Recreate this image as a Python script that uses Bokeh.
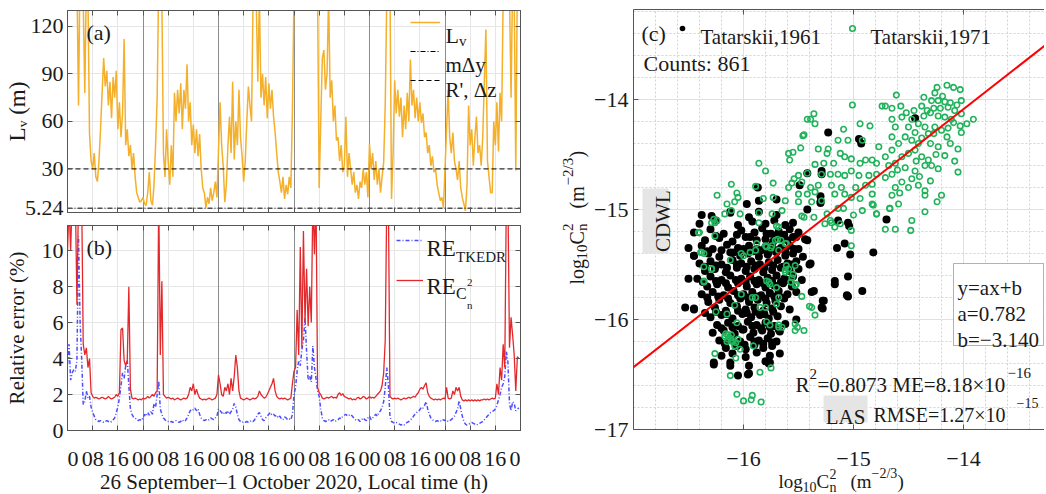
import math
from bokeh.plotting import figure
from bokeh.models import (Range1d, FixedTicker, LinearAxis, Grid, Label,
                          BoxAnnotation, Legend, LegendItem)
from bokeh.layouts import row, column
from bokeh.embed import file_html
from bokeh.resources import INLINE

FONT = "Liberation Serif"
INK = "#1a1a1a"
AX = "#555555"
ORANGE = "#F4B02A"
BLUE = "#4d4dff"
RED = "#E3282C"
GREEN = "#20B35B"
FITRED = "#FF0000"

# ---------------- data: time series (30-min steps from 26 Sep 00:00) ----------------
step_h = 0.5
lv_day1 = [150,145,160,140,150,135,150,70,160,140,135,78,150,140,52,35,30,40,25,22,35,55,78,100,
           82,92,70,85,62,88,75,92,55,72,50,65,112,45,55,38,45,30,40,25,15,12,9,10]
lv_day2 = [12,8,7,15,28,10,7,20,45,75,150,140,135,40,25,55,35,20,45,25,78,60,80,65,
           84,55,80,68,96,60,72,45,58,40,55,38,52,30,18,15,5.5,12,8,18,10,15,22,12]
lv_day3 = [42,72,45,32,9,20,45,63,40,85,36,60,45,80,50,38,22,35,60,82,70,60,140,150,
           135,85,140,75,90,70,88,62,84,68,80,63,53,40,28,22,15,25,11,20,14,25,18,67]
lv_day4 = [140,150,140,160,150,145,160,140,155,145,150,160,140,150,145,140,18,60,100,105,80,90,140,75,
           86,60,70,48,50,35,45,28,32,63,25,40,30,20,28,15,20,11,22,18,30,20,28,12]
lv_day5 = [46,30,40,23,35,20,30,15,25,34,70,140,160,150,11,40,86,65,80,63,75,50,70,55,
           78,60,99,70,80,62,75,60,72,59,65,50,53,40,45,32,38,28,30,20,15,10,12,5.5]
lv_day6 = [30,55,80,50,40,53,35,30,23,35,18,12,8,3.6,20,70,45,55,32,50,63,40,45,32,
           50,85,118,35,25,15,15,60,45,72,41,78,60,140,150,135,145,140,75,150,140,29,150,140]
lv_m = lv_day1 + lv_day2 + lv_day3 + lv_day4 + lv_day5 + lv_day6

tk_day1 = [3.7,4.8,2.8,3.2,3.4,3.3,3.9,10.8,6.1,4.0,1.45,1.6,2.2,1.8,1.9,1.3,1.0,0.8,0.6,0.55,0.5,0.55,0.5,0.45,
           0.5,0.55,0.5,0.45,0.5,0.6,0.7,1.0,1.3,1.8,2.5,3.2,2.9,3.6,3.9,2.5,1.2,0.9,0.75,0.7,0.6,0.55,0.6,0.55]
tk_day2 = [0.7,0.9,0.8,1.0,0.85,1.1,0.9,1.5,1.3,2.0,2.75,1.2,0.9,0.7,0.6,0.5,0.5,0.45,0.5,0.45,0.5,0.55,0.5,0.45,
           0.5,0.6,0.5,0.55,0.7,0.9,1.1,1.2,1.15,1.25,1.1,1.2,0.9,0.7,0.6,0.55,0.6,0.55,0.6,0.7,0.65,0.6,0.7,0.8]
tk_day3 = [1.2,1.1,1.0,0.9,1.05,0.95,1.1,0.9,1.05,1.2,1.5,1.3,0.9,0.6,0.5,0.45,0.5,0.45,0.5,0.45,0.5,0.55,0.5,0.6,
           0.75,0.9,1.0,0.8,0.6,0.55,0.7,0.8,0.9,1.0,0.85,0.9,0.8,0.85,0.7,0.8,0.65,0.6,0.75,0.7,0.6,0.65,0.6,0.9]
tk_day4 = [2.0,2.4,3.3,3.9,3.6,4.5,5.0,6.3,4.4,2.8,3.0,2.7,4.7,3.5,2.9,2.2,1.9,1.2,0.7,0.55,0.5,0.55,0.6,0.5,
           0.55,0.6,0.5,0.55,0.6,0.7,0.65,0.8,0.85,0.9,0.8,0.85,0.9,0.8,0.7,0.6,0.55,0.6,0.5,0.6,0.7,0.6,0.55,0.7]
tk_day5 = [0.8,0.6,0.7,0.8,0.9,0.8,1.0,1.1,1.3,1.6,2.4,3.5,2.5,0.8,0.5,0.45,0.4,0.45,0.4,0.35,0.3,0.35,0.3,0.4,
           0.45,0.5,0.6,0.65,0.8,0.9,1.0,1.05,1.15,1.3,1.25,1.4,1.6,1.2,0.9,0.7,0.6,0.55,0.5,0.55,0.5,0.55,0.5,0.6]
tk_day6 = [0.55,0.6,0.5,0.55,0.6,0.7,0.8,1.0,1.2,1.65,1.2,0.8,0.5,0.35,0.3,0.35,0.4,0.45,0.4,0.35,0.3,0.35,0.4,0.45,
           0.5,0.6,0.7,0.8,0.9,1.0,1.05,1.1,1.2,1.4,1.7,2.0,2.4,2.6,3.0,4.4,3.8,1.5,1.1,1.6,1.5,1.1,1.2,1.25]
re_tkedr = tk_day1 + tk_day2 + tk_day3 + tk_day4 + tk_day5 + tk_day6

cn_day1 = [10.0,12.5,10.0,13.0,12.5,13.0,7.0,13.0,12.0,13.0,4.8,4.2,4.6,3.5,4.0,2.1,1.9,1.8,1.85,1.8,1.75,1.8,1.85,1.8,
           1.75,1.8,1.9,1.8,1.75,1.8,1.85,2.0,1.9,2.1,5.6,5.7,3.9,3.6,3.9,8.0,2.3,1.8,1.75,1.8,1.75,1.7,1.75,1.7]
cn_day2 = [1.8,1.75,1.8,1.9,1.8,1.9,2.0,1.9,2.1,2.2,13.0,4.2,8.3,2.0,1.9,1.8,1.85,1.8,1.75,1.8,1.7,1.75,1.8,1.75,
           1.7,1.75,1.8,1.75,1.8,2.0,2.4,2.2,2.6,2.0,2.3,2.0,1.8,1.75,1.7,1.75,1.7,1.75,1.8,1.75,1.7,1.75,1.8,2.0]
cn_day3 = [3.1,2.6,2.0,1.9,2.4,2.2,2.6,2.0,2.9,2.2,3.0,4.2,3.5,2.2,1.8,1.75,1.7,1.75,1.8,1.75,1.7,1.75,1.8,1.75,
           1.8,1.9,2.2,2.0,1.9,1.8,1.85,2.0,2.2,2.4,2.6,2.9,2.2,1.9,1.8,1.75,1.8,1.75,1.8,1.75,1.7,1.75,1.8,2.6]
cn_day4 = [3.3,3.5,6.7,4.2,10.2,4.6,11.1,6.0,9.0,5.8,8.0,6.0,13.0,9.8,13.0,2.4,2.1,2.0,1.8,1.75,1.8,1.85,1.8,1.85,
           1.9,1.8,1.85,1.8,2.0,2.1,1.95,2.05,1.9,1.85,1.8,1.75,1.8,1.7,1.75,1.7,1.8,1.85,1.75,1.8,1.9,1.85,1.75,1.8]
cn_day5 = [1.9,1.8,1.85,1.8,1.9,2.0,2.1,2.2,2.5,3.2,5.0,13.0,13.0,1.9,1.8,1.75,1.8,1.75,1.8,1.75,1.7,1.75,1.8,1.75,
           1.8,1.85,1.8,1.85,1.9,1.85,2.0,2.1,2.3,2.4,2.3,2.5,2.65,2.1,1.9,1.8,1.75,1.7,1.75,1.7,1.75,1.7,1.75,1.8]
cn_day6 = [1.75,2.4,1.8,1.75,1.8,2.2,2.0,2.4,2.2,2.4,1.9,1.7,1.65,1.7,1.65,1.7,1.65,1.7,1.65,1.7,1.65,1.7,1.65,1.7,
           1.7,1.75,1.7,1.75,1.7,1.75,1.8,1.75,1.8,2.6,2.0,3.5,2.8,4.8,3.5,13.0,13.0,4.6,6.3,5.3,4.2,2.2,4.1,4.0]
re_cn2 = cn_day1 + cn_day2 + cn_day3 + cn_day4 + cn_day5 + cn_day6

m_dy = 5.24      # m*delta-y threshold (m)
r_dz = 30.0      # R', delta-z threshold (m)

hour_ticks = [0, 8, 16, 24, 32, 40, 48, 56, 64, 72, 80, 88, 96, 104, 112, 120, 128, 136, 144]
hour_labels = ["00", "08", "16", "00", "08", "16", "00", "08", "16", "00", "08", "16",
               "00", "08", "16", "00", "08", "16", "00"]
day_bounds = [24, 48, 72, 96, 120]
lv_ticks = [5.24, 30, 60, 90, 120]
lv_tick_labels = ["5.24", "30", "60", "90", "120"]
re_ticks = [0, 2, 4, 6, 8, 10]

# ---------------- data: scatter (log10 Cn2) ----------------
fit_a = 0.782
fit_b = -3.140
count_n = 861
c_ticks = [-17, -16, -15, -14]
c_tick_labels = ["\u221217", "\u221216", "\u221215", "\u221214"]

black_mass = [
    (-16.29,-15.06),(-16.12,-15.03),(-15.95,-15.07),(-15.86,-15.02),(-15.70,-15.05),
    (-16.40,-15.13),(-16.25,-15.10),(-16.05,-15.14),(-15.92,-15.11),(-15.80,-15.13),(-15.72,-15.10),(-15.62,-15.14),(-15.55,-15.12),
    (-16.45,-15.21),(-16.30,-15.18),(-16.18,-15.22),(-16.02,-15.19),(-15.90,-15.21),(-15.83,-15.17),(-15.75,-15.22),(-15.68,-15.20),(-15.58,-15.18),(-15.50,-15.21),
    (-16.25,-15.24),(-16.06,-15.23),(-15.94,-15.25),(-15.79,-15.22),(-15.71,-15.24),(-15.63,-15.23),(-15.55,-15.25),
    (-16.35,-15.28),(-16.22,-15.26),(-16.10,-15.29),(-15.98,-15.25),(-15.88,-15.28),(-15.80,-15.27),(-15.73,-15.29),(-15.65,-15.26),(-15.60,-15.28),(-15.52,-15.25),(-15.44,-15.27),
    (-16.50,-15.35),(-16.38,-15.33),(-16.28,-15.36),(-16.15,-15.32),(-16.05,-15.35),(-15.95,-15.33),(-15.88,-15.36),(-15.80,-15.34),(-15.74,-15.32),(-15.66,-15.35),(-15.58,-15.33),(-15.50,-15.36),
    (-16.33,-15.38),(-16.20,-15.37),(-16.09,-15.39),(-16.00,-15.36),(-15.91,-15.38),(-15.84,-15.37),(-15.77,-15.39),(-15.70,-15.37),(-15.62,-15.38),(-15.54,-15.36),
    (-16.45,-15.42),(-16.32,-15.40),(-16.22,-15.43),(-16.12,-15.39),(-16.03,-15.42),(-15.96,-15.40),(-15.86,-15.43),(-15.78,-15.41),(-15.70,-15.39),(-15.62,-15.42),(-15.55,-15.40),(-15.46,-15.43),
    (-16.40,-15.49),(-16.30,-15.47),(-16.20,-15.50),(-16.10,-15.46),(-16.02,-15.49),(-15.93,-15.47),(-15.85,-15.50),(-15.77,-15.48),(-15.69,-15.46),(-15.60,-15.49),(-15.52,-15.47),(-15.40,-15.50),
    (-16.35,-15.52),(-16.25,-15.51),(-16.15,-15.53),(-16.06,-15.50),(-15.97,-15.52),(-15.89,-15.51),(-15.81,-15.53),(-15.73,-15.51),(-15.64,-15.52),(-15.56,-15.50),
    (-16.35,-15.56),(-16.26,-15.54),(-16.16,-15.57),(-16.06,-15.53),(-15.98,-15.56),(-15.90,-15.54),(-15.82,-15.57),(-15.74,-15.55),(-15.66,-15.53),(-15.58,-15.56),(-15.50,-15.54),
    (-16.42,-15.63),(-16.30,-15.61),(-16.20,-15.64),(-16.12,-15.60),(-16.02,-15.63),(-15.94,-15.61),(-15.86,-15.64),(-15.78,-15.62),(-15.70,-15.60),(-15.63,-15.63),(-15.55,-15.61),(-15.47,-15.64),
    (-16.37,-15.66),(-16.25,-15.65),(-16.16,-15.67),(-16.07,-15.64),(-15.98,-15.66),(-15.90,-15.65),(-15.82,-15.67),(-15.74,-15.65),(-15.66,-15.66),(-15.59,-15.64),
    (-16.33,-15.70),(-16.24,-15.68),(-16.14,-15.71),(-16.05,-15.67),(-15.97,-15.70),(-15.88,-15.68),(-15.80,-15.71),(-15.72,-15.69),(-15.64,-15.67),(-15.56,-15.70),
    (-16.38,-15.77),(-16.28,-15.75),(-16.18,-15.78),(-16.09,-15.74),(-16.00,-15.77),(-15.92,-15.75),(-15.84,-15.78),(-15.76,-15.76),(-15.68,-15.74),(-15.60,-15.77),(-15.52,-15.75),
    (-16.33,-15.80),(-16.23,-15.79),(-16.14,-15.81),(-16.05,-15.78),(-15.96,-15.80),(-15.88,-15.79),(-15.80,-15.81),(-15.72,-15.79),(-15.64,-15.80),
    (-16.32,-15.84),(-16.22,-15.82),(-16.12,-15.85),(-16.03,-15.81),(-15.95,-15.84),(-15.87,-15.82),(-15.79,-15.85),(-15.71,-15.83),(-15.63,-15.81),
    (-16.45,-15.91),(-16.26,-15.89),(-16.16,-15.92),(-16.06,-15.88),(-15.98,-15.91),(-15.90,-15.89),(-15.82,-15.92),(-15.74,-15.90),(-15.66,-15.88),(-15.58,-15.91),
    (-16.35,-15.94),(-16.25,-15.93),(-16.15,-15.95),(-16.05,-15.92),(-15.97,-15.94),(-15.89,-15.93),(-15.81,-15.95),(-15.73,-15.93),
    (-16.30,-15.98),(-16.20,-15.96),(-16.10,-15.99),(-16.01,-15.95),(-15.93,-15.98),(-15.85,-15.96),(-15.77,-15.99),(-15.69,-15.97),
    (-16.24,-16.05),(-16.14,-16.03),(-16.05,-16.06),(-15.96,-16.02),(-15.88,-16.05),(-15.80,-16.03),(-15.72,-16.06),(-15.62,-16.04),
    (-16.20,-16.08),(-16.10,-16.07),(-16.01,-16.09),(-15.92,-16.06),(-15.84,-16.08),(-15.76,-16.07),(-15.68,-16.09),
    (-16.28,-16.12),(-16.18,-16.10),(-16.08,-16.13),(-16.00,-16.09),(-15.91,-16.12),(-15.83,-16.10),(-15.75,-16.13),(-15.67,-16.11),
    (-16.22,-16.19),(-16.12,-16.17),(-16.03,-16.20),(-15.94,-16.16),(-15.86,-16.19),(-15.78,-16.17),(-15.70,-16.20),
    (-16.17,-16.22),(-16.08,-16.21),(-15.99,-16.23),(-15.90,-16.20),(-15.82,-16.22),(-15.74,-16.21),
    (-16.16,-16.26),(-16.06,-16.24),(-15.98,-16.27),(-15.90,-16.23),(-15.82,-16.26),(-15.74,-16.24),
    (-16.20,-16.33),(-16.10,-16.31),(-15.98,-16.34),(-15.88,-16.30),(-15.76,-16.33),
    (-16.27,-16.41),(-16.12,-16.39),(-15.95,-16.42),(-15.80,-16.38),
    (-16.05,-16.51),(-15.95,-16.49),
]
black_sparse = [
    (-15.23,-14.30),(-14.93,-14.40),(-14.95,-14.36),(-15.42,-14.67),(-15.29,-14.65),(-15.49,-14.78),
    (-15.87,-14.80),(-14.44,-14.17),(-15.70,-14.91),(-15.86,-14.92),(-15.97,-14.95),(-15.30,-14.88),
    (-15.30,-14.94),(-15.42,-15.00),(-14.70,-15.09),(-15.05,-15.12),(-16.38,-15.05),(-16.12,-15.02),
    (-15.42,-15.28),(-15.15,-15.35),(-15.05,-15.61),(-15.17,-15.68),(-14.92,-15.74),(-15.06,-15.78),
    (-15.27,-15.83),(-15.29,-15.89),(-15.39,-15.49),(-15.14,-15.10),(-15.04,-15.15),(-14.82,-15.39),
    (-15.36,-15.74),(-15.76,-16.39),(-15.67,-16.31),(-16.12,-16.42),(-15.08,-15.31),(-16.45,-15.42),
    (-16.50,-15.63),(-16.53,-15.89),(-15.30,-14.93),(-15.29,-14.68),(-15.03,-15.41),(-15.05,-15.79),
    (-15.17,-15.65),(-15.28,-15.83),(-15.28,-15.90),(-15.38,-15.75),(-15.52,-16.00),(-15.77,-16.40),
    (-15.96,-16.50),(-16.27,-16.39),(-16.45,-15.90),
]
green_upper = [
    (-14.24,-13.89),(-14.15,-13.87),(-14.09,-13.89),(-14.03,-13.91),(-14.26,-13.94),(-14.36,-13.98),
    (-14.61,-13.96),(-14.29,-14.01),(-14.23,-14.01),(-14.17,-14.02),(-14.02,-14.01),(-13.91,-14.18),
    (-14.74,-14.06),(-14.71,-14.06),(-14.65,-14.08),(-14.57,-14.06),(-14.52,-14.12),(-14.45,-14.10),
    (-14.38,-14.06),(-14.33,-14.10),(-14.27,-14.08),(-14.21,-14.08),(-14.14,-14.07),(-14.08,-14.10),
    (-14.02,-14.13),(-14.23,-14.15),(-14.17,-14.16),(-14.11,-14.18),(-14.03,-14.24),(-14.02,-14.30),
    (-14.56,-14.16),(-14.47,-14.18),(-14.41,-14.22),(-14.65,-14.18),(-14.62,-14.25),(-14.50,-14.25),
    (-14.35,-14.25),(-14.26,-14.25),(-14.20,-14.28),(-14.15,-14.34),(-14.32,-14.31),(-14.53,-14.34),
    (-14.65,-14.34),(-14.59,-14.40),(-14.47,-14.37),(-14.41,-14.40),(-14.30,-14.40),(-14.23,-14.43),
    (-14.17,-14.51),(-14.08,-14.56),(-14.05,-14.66),(-14.50,-14.49),(-14.44,-14.46),(-14.38,-14.52),
    (-14.65,-14.46),(-14.56,-14.52),(-14.71,-14.52),(-14.77,-14.43),(-14.79,-14.58),(-14.62,-14.58),
    (-14.53,-14.62),(-14.44,-14.65),(-14.35,-14.60),(-14.29,-14.60),(-14.23,-14.63),(-14.47,-14.72),
    (-14.56,-14.75),(-14.65,-14.68),(-14.71,-14.71),(-14.50,-14.80),(-14.41,-14.78),(-14.35,-14.83),
    (-14.35,-14.87),(-14.20,-14.87),(-14.24,-14.93),(-14.58,-14.85),(-14.65,-14.87),(-14.59,-14.95),
    (-14.67,-14.99),(-14.79,-15.04),(-14.47,-15.10),(-14.48,-15.19),(-14.71,-15.18),(-14.35,-15.02),
    (-14.19,-13.97),(-14.12,-14.03),(-14.06,-14.05),(-14.30,-14.12),(-14.36,-14.15),(-14.09,-14.21),
    (-14.14,-14.26),(-14.27,-14.31),(-14.44,-14.30),(-14.38,-14.35),(-14.12,-14.40),(-14.05,-14.45),
    (-14.25,-14.50),(-14.32,-14.55),(-14.43,-14.56),(-14.60,-14.64),(-14.68,-14.60),(-14.40,-14.70),
    (-14.30,-14.74),(-14.62,-14.80),(-13.97,-14.22),
]
green_mid = [
    (-15.01,-14.05),(-15.39,-14.18),(-15.42,-14.18),(-15.36,-14.13),(-15.35,-14.22),(-14.94,-14.22),
    (-14.85,-14.24),(-15.09,-14.27),(-15.46,-14.33),(-15.45,-14.32),(-15.14,-14.37),(-15.05,-14.37),
    (-14.92,-14.37),(-15.32,-14.45),(-15.23,-14.45),(-15.55,-14.48),(-15.59,-14.49),(-15.58,-14.55),
    (-15.48,-14.44),(-15.24,-14.49),(-15.12,-14.49),(-15.08,-14.52),(-15.02,-14.54),(-14.94,-14.58),
    (-14.89,-14.55),(-14.83,-14.55),(-14.79,-14.68),(-15.18,-14.58),(-15.27,-14.58),(-15.35,-14.59),
    (-15.86,-14.58),(-15.80,-14.65),(-15.42,-14.67),(-15.50,-14.69),(-15.54,-14.72),(-15.29,-14.68),
    (-15.21,-14.68),(-15.14,-14.68),(-15.08,-14.69),(-15.02,-14.65),(-14.95,-14.69),(-14.86,-14.69),
    (-15.56,-14.76),(-15.47,-14.75),(-15.39,-14.80),(-15.32,-14.78),(-15.20,-14.78),(-15.11,-14.80),
    (-14.98,-14.80),(-14.89,-14.78),(-14.83,-14.77),(-16.11,-14.77),(-15.89,-14.79),(-15.73,-14.76),
    (-15.59,-14.80),(-15.50,-14.86),(-15.42,-14.86),(-15.35,-14.84),(-15.17,-14.86),(-15.08,-14.86),
    (-15.02,-14.89),(-14.94,-14.90),(-14.83,-14.86),(-16.24,-14.87),(-16.06,-14.85),(-16.05,-14.89),
    (-16.15,-14.95),(-16.08,-14.93),(-15.82,-14.90),(-15.73,-14.89),(-15.62,-14.92),(-15.50,-14.93),
    (-15.38,-14.93),(-15.29,-14.92),(-15.24,-15.04),(-15.14,-14.99),(-15.09,-14.99),(-15.00,-15.05),
    (-14.92,-15.01),(-14.83,-14.95),(-16.17,-15.04),(-16.11,-15.01),(-16.03,-15.04),(-15.86,-15.03),
    (-15.74,-15.04),(-15.65,-15.01),(-15.45,-15.07),(-15.36,-15.07),(-15.26,-15.13),(-15.20,-15.12),
    (-15.12,-15.13),(-15.02,-15.19),(-15.86,-15.12),(-15.71,-15.28),(-15.68,-15.16),(-16.26,-15.12),
    (-16.29,-15.12),(-16.41,-15.21),(-16.26,-15.24),(-14.82,-14.96),(-14.67,-14.99),(-14.62,-15.18),
    (-14.79,-15.04),(-15.21,-15.10),(-15.17,-15.16),(-15.47,-15.06),
]
green_low = [
    (-16.38,-15.39),(-16.36,-15.52),(-16.29,-15.54),(-16.36,-15.65),(-16.25,-15.93),(-16.15,-15.95),
    (-16.08,-15.87),(-16.02,-15.77),(-16.00,-15.42),(-15.92,-15.80),(-15.85,-15.89),(-15.80,-15.89),
    (-15.79,-16.02),(-15.76,-16.05),(-15.68,-16.07),(-15.65,-16.07),(-15.77,-15.66),(-15.70,-15.71),
    (-15.68,-15.80),(-15.62,-15.55),(-15.61,-15.51),(-15.53,-15.51),(-15.55,-15.59),(-15.52,-15.68),
    (-15.47,-15.79),(-15.40,-15.88),(-15.38,-15.89),(-15.35,-15.96),(-15.53,-16.04),(-15.51,-16.07),
    (-15.45,-16.10),(-16.17,-16.15),(-16.14,-16.18),(-16.11,-16.19),(-16.08,-16.24),(-16.03,-16.27),
    (-16.05,-16.18),(-16.16,-16.13),(-15.91,-16.24),(-16.07,-16.35),(-16.26,-16.31),(-16.12,-16.51),
    (-15.85,-16.48),(-15.75,-16.44),(-16.06,-16.68),(-16.00,-16.74),(-15.93,-16.73),(-15.92,-16.69),
    (-15.84,-16.75),(-15.02,-15.33),(-15.88,-15.31),(-15.80,-15.33),(-15.74,-15.33),(-15.62,-15.31),
    (-15.70,-15.15),(-15.69,-15.27),(-15.66,-15.28),(-15.79,-15.34),(-15.75,-15.35),(-15.68,-15.37),
    (-15.61,-15.31),(-16.02,-15.40),(-16.12,-15.46),(-15.94,-15.39),(-15.89,-15.37),(-15.59,-15.54),
    (-15.62,-15.57),(-15.56,-15.62),(-15.57,-15.66),(-15.53,-15.69),(-15.79,-15.65),(-15.76,-15.68),
    (-15.70,-15.86),(-15.89,-15.80),(-16.06,-16.03),(-16.14,-16.14),(-16.11,-16.14),(-15.68,-16.05),
    (-15.53,-16.10),(-16.39,-15.39),(-16.40,-15.21),(-16.27,-15.09),(-16.24,-15.10),(-16.10,-16.20),
    (-16.07,-16.21),(-16.15,-16.20),(-16.12,-16.17),(-16.36,-15.40),(-16.29,-15.54),(-16.36,-15.66),
]

black_pts = black_mass + black_sparse
green_pts = green_upper + green_mid + green_low
bx = [p[0] for p in black_pts]
by = [p[1] for p in black_pts]
gx = [p[0] for p in green_pts]
gy = [p[1] for p in green_pts]

# ---------------- geometry (page pixels) ----------------
PAGE_H = 493
A_L, A_R, A_T, A_B = 67, 520, 10, 212
A_BOT = 10
B_T, B_B = 225, 430
B_BOT = 9
PBX_TOP = B_B + B_BOT
PBX_H = PAGE_H - PBX_TOP
A_YR = (2.5, 130.0)
B_YR = (0.0, 11.4)
LEFT_W = 521           # width of the time-series column
STRIP_W = 70           # strip holding the rotated y label of (c)
C_X0 = LEFT_W + STRIP_W
C_L, C_T, C_W, C_H = 633, 9, 411, 420
C_B = C_T + C_H
C_BOT = 9
CX_TOP = C_B + C_BOT
CX_H = PAGE_H - CX_TOP
C_PX = 110.0
C_XR = (-17.0, -17.0 + C_W / C_PX)
C_YR = (-17.0, -17.0 + C_H / C_PX)
TICK_BASE = 458        # baseline of bottom tick labels (page px)


def conv_a(px, py):
    return ((px - A_L) * 144.0 / (A_R - A_L), A_YR[1] - (py - A_T) * (A_YR[1] - A_YR[0]) / (A_B - A_T))


def conv_b(px, py):
    return ((px - A_L) * 144.0 / (A_R - A_L), B_YR[1] - (py - B_T) * (B_YR[1] - B_YR[0]) / (B_B - B_T))


def conv_c(px, py):
    return (-17.0 + (px - C_L) / C_PX, -17.0 + (C_B - py) / C_PX)


def conv_bx(px, py):
    return ((px - A_L) * 144.0 / (A_R - A_L), PAGE_H - py)


def conv_cx(px, py):
    return (-17.0 + (px - C_L) / C_PX, PAGE_H - py)


def conv_strip(px, py):
    return (px - LEFT_W, PAGE_H - py)


def lab(p, conv, px, py, text, size, angle=0.0, align="left", baseline="alphabetic", color=INK):
    x, y = conv(px, py)
    p.add_layout(Label(x=x, y=y, text=text, text_font=FONT, text_font_size=f"{size}px",
                       angle=angle, text_align=align, text_baseline=baseline, text_color=color))


def tick_lab(p, xval, py, text):
    p.add_layout(Label(x=xval, y=PAGE_H - py, text=text, text_font=FONT, text_font_size="22px",
                       text_align="center", text_baseline="alphabetic", text_color=INK))


def style_axis(ax, ticker, overrides=None, labels=True, size="22px", standoff=4):
    ax.ticker = ticker
    ax.axis_line_color = AX
    ax.axis_line_width = 1
    ax.major_tick_line_color = AX
    ax.major_tick_in = 5
    ax.major_tick_out = 0
    ax.minor_tick_line_color = None
    if labels:
        ax.major_label_text_font = FONT
        ax.major_label_text_font_size = size
        ax.major_label_text_color = INK
        ax.major_label_standoff = standoff
        if overrides:
            ax.major_label_overrides = overrides
    else:
        ax.major_label_text_font_size = "0px"
        ax.major_label_standoff = 0


def style_axis_label(ax, text, size, standoff):
    ax.axis_label = text
    ax.axis_label_text_font = FONT
    ax.axis_label_text_font_size = f"{size}px"
    ax.axis_label_text_font_style = "normal"
    ax.axis_label_text_color = INK
    ax.axis_label_standoff = standoff


def ts_figure(frame_t, frame_b, yr, top, bottom, yticks, yover, xr):
    p = figure(frame_width=A_R - A_L, frame_height=frame_b - frame_t,
               x_range=xr, y_range=Range1d(*yr),
               min_border_left=A_L, min_border_right=LEFT_W - A_R, min_border_top=top,
               min_border_bottom=bottom, title=None,
               toolbar_location=None, output_backend="svg",
               outline_line_color=AX, outline_line_width=1)
    bottom_ax = p.below[0]
    left_ax = p.left[0]
    xt = FixedTicker(ticks=hour_ticks)
    yt = FixedTicker(ticks=yticks)
    style_axis(bottom_ax, xt, labels=False)
    style_axis(left_ax, yt, yover, labels=True, standoff=4)
    top_ax = LinearAxis()
    right_ax = LinearAxis()
    p.add_layout(top_ax, "above")
    p.add_layout(right_ax, "right")
    style_axis(top_ax, xt, labels=False)
    style_axis(right_ax, yt, labels=False)
    p.xgrid.ticker = xt
    p.ygrid.ticker = yt
    p.xgrid.grid_line_color = "#e6e6e6"
    p.ygrid.grid_line_color = "#e6e6e6"
    p.add_layout(Grid(dimension=0, ticker=FixedTicker(ticks=day_bounds),
                      grid_line_color="#8c8c8c", grid_line_width=1))
    return p, bottom_ax, left_ax


def strip_figure(xr, fw, fh, left, right):
    p = figure(frame_width=fw, frame_height=fh, x_range=xr, y_range=Range1d(0, fh),
               min_border_left=left, min_border_right=right, min_border_top=0, min_border_bottom=0,
               title=None, toolbar_location=None, output_backend="svg",
               x_axis_location=None, y_axis_location=None, outline_line_color=None)
    p.grid.grid_line_color = None
    return p


R90 = math.pi / 2
t_range = Range1d(0, 144)

# ---------------- panel (a) ----------------
pa, pa_bottom, pa_left = ts_figure(A_T, A_B, A_YR, A_T, A_BOT, lv_ticks,
                                   dict(zip(lv_ticks, lv_tick_labels)), t_range)
style_axis_label(pa_left, "L\u1d65 (m)", 23, -8)
t_lv = [i * step_h for i in range(len(lv_m))]
r_lv = pa.line(t_lv, lv_m, line_color=ORANGE, line_width=1.5)
r_mdy = pa.line([0, 144], [m_dy, m_dy], line_color="black", line_width=1, line_dash="5 2 1 2")
r_rdz = pa.line([0, 144], [r_dz, r_dz], line_color="black", line_width=1, line_dash="5 3")
leg_a = Legend(items=[LegendItem(label=" ", renderers=[r_lv]),
                      LegendItem(label=" ", renderers=[r_mdy]),
                      LegendItem(label=" ", renderers=[r_rdz])],
               location=(343, 119), orientation="vertical", glyph_width=30, glyph_height=26,
               label_height=26, label_width=1, label_standoff=0, spacing=3, padding=0, margin=0,
               border_line_color=None, background_fill_alpha=0, label_text_font_size="1px")
pa.add_layout(leg_a)
lab(pa, conv_a, 86, 32, "(a)", 22)
lab(pa, conv_a, 445, 35, "L", 22)
lab(pa, conv_a, 458.5, 40, "v", 15)
lab(pa, conv_a, 445, 64, "m\u0394y", 21)
lab(pa, conv_a, 445, 89, "R', \u0394z", 21)

# ---------------- panel (b) ----------------
pb, pb_bottom, pb_left = ts_figure(B_T, B_B, B_YR, B_T - A_B - A_BOT, B_BOT, re_ticks, None, t_range)
style_axis_label(pb_left, "Relative error (%)", 21, 10)
t_re = [i * step_h for i in range(len(re_tkedr))]
t_cn = [i * step_h for i in range(len(re_cn2))]
r_tk = pb.line(t_re, re_tkedr, line_color=BLUE, line_width=1.5, line_dash="4 2 1 2")
r_cn = pb.line(t_cn, re_cn2, line_color=RED, line_width=1.3)
leg_b = Legend(items=[LegendItem(label=" ", renderers=[r_tk]),
                      LegendItem(label=" ", renderers=[r_cn])],
               location=(329, 137), orientation="vertical", glyph_width=27, glyph_height=26,
               label_height=26, label_width=1, label_standoff=0, spacing=14, padding=0, margin=0,
               border_line_color=None, background_fill_alpha=0, label_text_font_size="1px")
pb.add_layout(leg_b)
lab(pb, conv_b, 86, 247, "(b)", 22)
lab(pb, conv_b, 426, 248, "RE", 23)
lab(pb, conv_b, 455.5, 256, "TKEDR", 15)
lab(pb, conv_b, 426, 286, "RE", 23)
lab(pb, conv_b, 455.5, 293, "C", 16)
lab(pb, conv_b, 466.5, 282, "2", 11)
lab(pb, conv_b, 466.5, 304, "n", 11)

# strip below (b): hour tick labels and x label, on the shared time scale
pbx = strip_figure(t_range, A_R - A_L, PBX_H, A_L, LEFT_W - A_R)
for tv, tl in zip(hour_ticks, hour_labels):
    tick_lab(pbx, tv, TICK_BASE, tl)
lab(pbx, conv_bx, 293.5, 481, "26 September\u20131 October 2020, Local time (h)", 21, align="center")

# ---------------- panel (c) ----------------
cx_range = Range1d(*C_XR)
pc = figure(frame_width=C_W, frame_height=C_H, x_range=cx_range, y_range=Range1d(*C_YR),
            min_border_left=C_L - C_X0, min_border_right=0, min_border_top=C_T, min_border_bottom=C_BOT,
            title=None, toolbar_location=None, output_backend="svg", outline_line_color=None)
c_minor = [round(-17 + 0.2 * k, 1) for k in range(20)]
cxt = FixedTicker(ticks=c_ticks[1:])
cyt = FixedTicker(ticks=c_ticks)
c_over = dict(zip(c_ticks, c_tick_labels))
pc_bottom = pc.below[0]
pc_left = pc.left[0]
style_axis(pc_bottom, cxt, labels=False)
style_axis(pc_left, cyt, c_over, labels=True, standoff=5)
c_top = LinearAxis()
pc.add_layout(c_top, "above")
style_axis(c_top, cxt, labels=False)
for g in (pc.xgrid[0], pc.ygrid[0]):
    g.ticker = FixedTicker(ticks=c_ticks, minor_ticks=c_minor)
    g.grid_line_color = "#e0e0e0"
    g.minor_grid_line_color = "#d2d2d2"
    g.minor_grid_line_dash = "2 2"

r_black = pc.scatter(bx, by, marker="circle", size=8, fill_color="black", line_color=None)
r_green = pc.scatter(gx, gy, marker="circle", size=5.5, fill_color=None, line_color=GREEN, line_width=1.6)
fx = [C_XR[0], C_XR[1]]
pc.line(fx, [fit_a * v + fit_b for v in fx], line_color=FITRED, line_width=2)

leg_c1 = Legend(items=[LegendItem(label=" ", renderers=[r_black])], location=(42, 388),
                glyph_width=14, glyph_height=26, label_height=26, label_width=1, label_standoff=0,
                padding=0, margin=0, border_line_color=None, background_fill_alpha=0,
                label_text_font_size="1px")
leg_c2 = Legend(items=[LegendItem(label=" ", renderers=[r_green])], location=(212, 388),
                glyph_width=14, glyph_height=26, label_height=26, label_width=1, label_standoff=0,
                padding=0, margin=0, border_line_color=None, background_fill_alpha=0,
                label_text_font_size="1px")
pc.add_layout(leg_c1)
pc.add_layout(leg_c2)
lab(pc, conv_c, 641, 33, "(c)", 22)
lab(pc, conv_c, 700, 36, "Tatarskii,1961", 21)
lab(pc, conv_c, 870, 36, "Tatarskii,1971", 21)
lab(pc, conv_c, 643, 63, f"Counts: {count_n}", 22)

# equation box
bl, bt = conv_c(953, 263)
br, bb = conv_c(1043, 345)
pc.add_layout(BoxAnnotation(left=bl, right=br, top=bt, bottom=bb, fill_color="white", fill_alpha=1,
                            line_color="black", line_width=1))
lab(pc, conv_c, 957, 287, "y=ax+b", 21)
lab(pc, conv_c, 957, 313, f"a={fit_a:.3f}", 21)
lab(pc, conv_c, 957, 339, f"b=\u2212{abs(fit_b):.3f}", 21)

# statistics
lab(pc, conv_c, 795, 384, "R", 21)
lab(pc, conv_c, 809, 373, "2", 15)
lab(pc, conv_c, 817, 384, "=0.8073 ME=8.18\u00d710", 21)
lab(pc, conv_c, 1007, 372, "\u221216", 15)
gl, gt = conv_c(823, 395)
gr, gb = conv_c(867, 422)
pc.add_layout(BoxAnnotation(left=gl, right=gr, top=gt, bottom=gb, fill_color="#e5e5e5", fill_alpha=1,
                            line_color=None))
lab(pc, conv_c, 845, 416, "LAS", 21, align="center")
lab(pc, conv_c, 873, 414, "RMSE=1.27\u00d710", 20)
lab(pc, conv_c, 1016, 402, "\u221215", 14)
# CDWL tag
dl, dt = conv_c(642, 188)
dr, db = conv_c(668, 253)
pc.add_layout(BoxAnnotation(left=dl, right=dr, top=dt, bottom=db, fill_color="#e5e5e5", fill_alpha=1,
                            line_color=None))
lab(pc, conv_c, 662, 220.5, "CDWL", 21, R90, align="center")

# strip left of (c): rotated y label  log10 Cn^2 (m^-2/3)
ps = strip_figure(Range1d(0, STRIP_W), STRIP_W, PAGE_H, 0, 0)
lab(ps, conv_strip, 576, 284, "log", 20, R90)
lab(ps, conv_strip, 581, 259, "10", 15, R90)
lab(ps, conv_strip, 576, 244, "C", 20, R90)
lab(ps, conv_strip, 567, 230.5, "2", 15, R90)
lab(ps, conv_strip, 581, 230.5, "n", 15, R90)
lab(ps, conv_strip, 576, 208, "(m", 20, R90)
lab(ps, conv_strip, 567, 185, "\u22122/3", 15, R90)
lab(ps, conv_strip, 576, 157, ")", 20, R90)

# strip below (c): tick labels and x label on the shared log10 scale
pcx = strip_figure(cx_range, C_W, CX_H, C_L - C_X0, 0)
for tv, tl in zip(c_ticks[1:], c_tick_labels[1:]):
    tick_lab(pcx, tv, TICK_BASE, tl)
lab(pcx, conv_cx, 778, 481, "log", 19)
lab(pcx, conv_cx, 802, 486, "10", 14)
lab(pcx, conv_cx, 816, 481, "C", 19)
lab(pcx, conv_cx, 829, 473, "2", 14)
lab(pcx, conv_cx, 829, 487, "n", 14)
lab(pcx, conv_cx, 850, 481, "(m", 19)
lab(pcx, conv_cx, 871, 473, "\u22122/3", 14)
lab(pcx, conv_cx, 897, 481, ")", 19)

layout = row(column(pa, pb, pbx), ps, column(pc, pcx))
open("out.html", "w").write(file_html(layout, INLINE))
